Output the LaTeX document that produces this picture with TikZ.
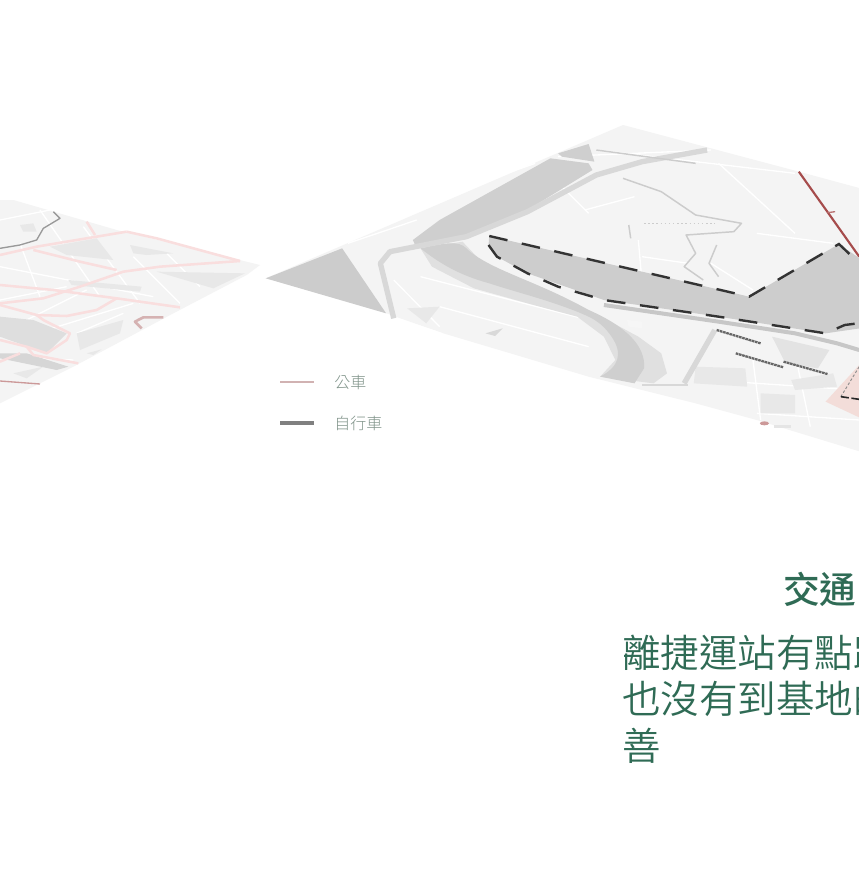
\documentclass[tikz,border=0pt]{standalone}
\usepackage{fontspec}
\setmainfont{Noto Sans CJK TC}
\newfontfamily\cjklight{Noto Sans CJK TC Light}
\newfontfamily\cjkdemi{Noto Sans CJK TC DemiLight}
\newfontfamily\cjkmedium{Noto Sans CJK TC Medium}
\definecolor{base}{HTML}{F4F4F4}
\definecolor{river}{HTML}{CFCFCF}
\definecolor{riverl}{HTML}{E0E0E0}
\definecolor{site}{HTML}{CDCDCD}
\definecolor{roadg}{HTML}{D8D8D8}
\definecolor{blockg}{HTML}{E8E8E8}
\definecolor{busp}{HTML}{F9DEDE}
\definecolor{parcel}{HTML}{F3DDD9}
\definecolor{green}{HTML}{2F6B55}
\definecolor{legendgreen}{HTML}{7F9389}
\tikzset{
  z1/.style={shift={(260,120)},x=0.2866pt,y=-0.25pt},
  z2/.style={shift={(0,190)},x=0.25pt,y=-0.25pt},
  street/.style={draw=white,line width=1pt,line join=round},
  roadline/.style={draw=roadg,line width=5pt,line join=round},
  trail/.style={draw=black!20,line width=1.1pt,line join=round},
  sitedash/.style={draw=black!80,line width=1.8pt,dash pattern=on 14pt off 11pt},
  labelbar/.style={draw=black!60,line width=1.7pt,dash pattern=on 2pt off .5pt},
  busline/.style={draw=busp,line width=1.9pt,line join=round},
  legendtxt/.style={text=legendgreen,font=\cjklight\fontsize{12}{12}\selectfont,anchor=west,inner sep=0pt},
  bodytxt/.style={text=green,font=\cjkdemi\fontsize{28.9}{28.9}\selectfont,anchor=west,inner sep=0pt},
}
\begin{document}
\begin{tikzpicture}[x=0.75pt,y=-0.75pt]
\clip (0,0) rectangle (859,874);
\fill[white] (0,0) rectangle (859,874);

% ---- left map
\begin{scope}[z2]
\fill[base] (0,30) -- (40,30) -- (350,120) -- (780,225) -- (740,255) -- (520,370) -- (220,530) -- (0,640) -- cycle;
\foreach \p in {
 {(0,90)--(200,50)},{(0,230)--(460,320)},{(120,60)--(300,320)},{(250,110)--(420,340)},
 {(20,420)--(260,300)},{(400,200)--(540,340)},{(140,420)--(400,340)},{(0,330)--(200,290)},
 {(60,160)--(120,320)},{(500,190)--(600,290)},{(230,430)--(370,370)},{(0,500)--(220,510)}}
 {\draw[street] \p;}
\fill[blockg] (60,105) -- (100,100) -- (110,125) -- (70,125) -- cycle;
\fill[blockg] (150,170) -- (290,145) -- (340,210) -- (200,195) -- cycle;
\fill[blockg] (390,165) -- (520,190) -- (440,195) -- (400,190) -- cycle;
\fill[blockg] (470,245) -- (735,250) -- (640,295) -- cycle;
\fill[blockg] (205,270) -- (425,290) -- (420,305) -- (215,285) -- cycle;
\fill[black!13] (0,380) -- (100,390) -- (200,430) -- (140,490) -- (0,440) -- cycle;
\fill[blockg] (230,430) -- (370,390) -- (360,430) -- (240,480) -- cycle;
\fill[black!16] (0,490) -- (80,490) -- (205,530) -- (170,540) -- (0,505) -- cycle;
\fill[blockg] (40,550) -- (130,530) -- (80,565) -- cycle;
\fill[blockg] (260,490) -- (305,478) -- (280,495) -- cycle;
\draw[busline] (0,195) -- (110,170) -- (290,140) -- (380,125);
\draw[busline] (380,125) -- (470,145) -- (720,213);
\draw[busline] (260,95) -- (285,135);
\draw[busline] (100,180) -- (240,215) -- (350,240);
\draw[busline] (0,340) -- (130,325) -- (240,290) -- (370,245) -- (480,230) -- (720,213);
\draw[busline] (0,285) -- (160,300) -- (350,325) -- (540,352);
\draw[busline] (350,325) -- (290,360) -- (200,378) -- (110,375) -- (0,345);
\draw[busline] (110,375) -- (130,390) -- (210,430) -- (200,450) -- (140,490) -- (80,470) -- (0,450);
\draw[busline] (80,470) -- (100,495) -- (235,520);
\draw[busline] (0,515) -- (60,490);
\draw[draw=black!40,line width=1pt,line join=round] (160,65) -- (180,85) -- (130,115) -- (110,150) -- (60,165) -- (0,175);
\draw[draw=red!50!black!40!white,line width=1pt] (0,573) -- (120,582);
\draw[draw=red!45!black!30!white,line width=2pt,line join=round] (490,382) -- (430,382) -- (405,395) -- (425,415);
\end{scope}

% ---- main map
\begin{scope}[z1]
\fill[base] (950,15) -- (1410,155) -- (1700,245) -- (1700,1040) -- (1300,900) -- (1140,850) -- (860,770) -- (480,640) -- (330,580) -- (15,475) -- cycle;
\fill[white] (15,475) -- (330,580) -- (375,600) -- (480,640) -- (330,640) -- cycle;
% wedge
\fill[black!20] (15,475) -- (215,385) -- (330,580) -- cycle;
% streets
\foreach \p in {
 {(230,370)--(410,300)},{(300,300)--(720,130)},{(780,110)--(1180,90)},{(880,90)--(1400,160)},
 {(850,270)--(980,230)},{(790,200)--(860,280)},{(990,360)--(1000,490)},{(1000,410)--(1120,430)},
 {(1180,430)--(1290,510)},{(1200,130)--(1400,340)},{(1300,340)--(1500,370)},
 {(420,470)--(860,600)},{(470,560)--(860,680)},{(350,480)--(470,620)},
 {(1290,720)--(1310,900)},{(1400,700)--(1440,920)},{(1170,780)--(1560,810)},{(1300,880)--(1568,900)}}
 {\draw[street] \p;}
% blocks
\fill[blockg] (385,565) -- (470,560) -- (435,610) -- cycle;
\fill[black!15] (590,640) -- (635,625) -- (615,648) -- cycle;
\fill[black!11] (1340,650) -- (1490,690) -- (1460,745) -- (1375,730) -- cycle;
\fill[blockg] (1140,740) -- (1270,745) -- (1275,800) -- (1135,790) -- cycle;
\fill[blockg] (1390,780) -- (1500,760) -- (1510,800) -- (1400,810) -- cycle;
\fill[blockg] (1310,820) -- (1400,825) -- (1400,880) -- (1310,880) -- cycle;
% lower river: bank, then water
\fill[riverl] (420,385) -- (530,365) -- (600,450) -- (860,570) -- (990,650) -- (1050,700) -- (1065,760) -- (1030,790) -- (890,770) -- (930,720) -- (900,650) -- (830,590) -- (700,550) -- (560,505) -- (450,440) -- cycle;
\fill[river] (420,385) .. controls (480,370) and (520,360) .. (540,385) .. controls (600,450) and (720,480) .. (860,570) .. controls (960,620) and (1010,680) .. (1005,745) -- (980,790) -- (890,770) .. controls (940,740) and (950,700) .. (920,650) .. controls (890,600) and (860,590) .. (830,575) .. controls (740,535) and (680,520) .. (600,490) .. controls (520,465) and (470,430) .. cycle;
\fill[white!70!riverl] (960,600) -- (1000,605) -- (1000,625) -- (965,620) -- cycle;
% upper river
\fill[river] (400,360) -- (470,300) -- (760,115) -- (860,130) -- (870,150) -- (700,270) -- (540,345) -- (410,385) -- cycle;
\fill[river] (780,100) -- (860,72) -- (875,125) -- (790,110) -- cycle;
% site
\fill[site] (600,348) -- (1280,530) -- (1515,372) -- (1600,440) -- (1600,620) -- (1480,640) -- (1200,590) -- (900,540) -- (700,460) -- (620,410) -- (598,375) -- cycle;
% roads
\draw[roadline,line width=4pt] (350,595) -- (315,430) -- (340,395) -- (540,350) -- (700,275) -- (880,165) -- (1000,125) -- (1170,90);
\draw[roadline,line width=3pt,draw=black!22] (900,555) -- (1200,605) -- (1400,640) -- (1510,670) -- (1568,690);
\draw[roadline,line width=4pt] (1190,630) -- (1110,790);
\draw[roadline,line width=2pt] (1000,795) -- (1120,795);
% trails
\draw[trail] (950,175) -- (1050,215) -- (1140,285) -- (1260,310) -- (1240,335) -- (1115,345) -- (1140,400) -- (1110,440) -- (1160,480);
\draw[trail] (1195,375) -- (1175,430) -- (1200,470);
\draw[trail] (965,315) -- (970,355);
\draw[trail,dotted] (1005,310) -- (1190,310);
\draw[trail] (880,90) -- (1140,130);
% pink parcel
\fill[parcel] (1480,845) -- (1568,735) -- (1620,700) -- (1620,920) -- cycle;
\draw[draw=black!45,line width=.7pt,dash pattern=on 2pt off 1.5pt] (1568,740) -- (1520,830);
\draw[draw=black!85,line width=1.2pt,dash pattern=on 6pt off 2pt] (1520,830) -- (1568,838);
% site border
\draw[sitedash] (600,348) -- (1280,530) -- (1515,372) -- (1568,430);
\draw[sitedash] (598,375) -- (620,410) -- (700,460) -- (780,500) -- (900,540) -- (1200,590) -- (1480,640) -- (1530,615) -- (1600,605);
% bus line
\draw[draw=red!50!black!70!white,line width=1.6pt] (1410,155) -- (1500,300) -- (1568,410);
\draw[draw=red!50!black!55!white,line width=1pt] (1485,278) -- (1505,275);
% text-like bars
\draw[labelbar] (1195,630) -- (1310,670);
\draw[labelbar] (1245,700) -- (1370,742);
\draw[labelbar] (1370,725) -- (1485,762);
% station dot
\fill[red!50!black!40!white] (1320,910) ellipse (12 and 6);
\fill[black!10] (1345,915) rectangle (1390,925);
\end{scope}

% ---- legend
\coordinate (busa) at (280,382); \coordinate (busb) at (314,382);
\coordinate (bikea) at (280,423); \coordinate (bikeb) at (314,423);
\draw[draw=red!40!black!30!white,line width=1.7pt] (busa) -- (busb);
\draw[draw=black!50,line width=3pt] (bikea) -- (bikeb);
\node[legendtxt] (buslabel) at (334,382) {公車};
\node[legendtxt] (bikelabel) at (334,423) {自行車};

% ---- text
\node[text=green,font=\cjkmedium\fontsize{27.5}{27.5}\selectfont,anchor=west,inner sep=0pt] (title) at (783,589) {交通};
\node[bodytxt] (line1) at (622,653) {離捷運站有點距};
\node[bodytxt] (line2) at (622,699) {也沒有到基地的};
\node[bodytxt] (line3) at (622,746) {善};
\end{tikzpicture}
\end{document}
